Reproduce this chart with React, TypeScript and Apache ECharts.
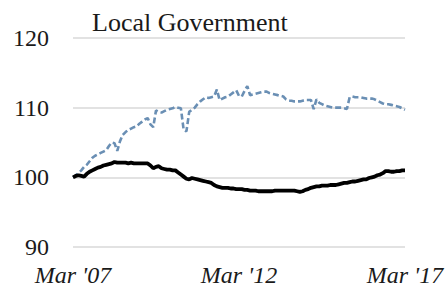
import React, { useEffect, useRef } from "react";
import * as echarts from "echarts";

const START_YEAR = 2007;
const MONTH_COUNT = 121; // Mar 2007 .. Mar 2017
const months: string[] = [];
for (let i = 0; i < MONTH_COUNT; i++) {
  const m = 2 + i; // March = index 2
  const y = START_YEAR + Math.floor(m / 12);
  const mm = (m % 12) + 1;
  months.push(`${y}-${mm < 10 ? "0" + mm : mm}`);
}

const yTicks = [90, 100, 110, 120];

const dashedSeries = [
  100.0, 100.3, 100.6, 101.0, 101.5, 101.8, 102.3, 102.8, 103.1, 103.3,
  103.5, 103.7, 103.9, 104.5, 105.0, 104.9, 103.8, 105.2, 106.1, 106.5,
  106.8, 107.0, 107.2, 107.3, 107.7, 108.0, 108.3, 108.5, 107.6, 107.2,
  109.6, 109.4, 109.3, 109.5, 109.7, 109.8, 109.9, 110.1, 110.0, 109.9,
  106.8, 106.6, 109.4, 109.7, 110.0, 110.5, 110.9, 111.2, 111.5, 111.4,
  111.5, 111.6, 112.6, 111.1, 111.3, 111.5, 111.6, 111.9, 112.2, 112.5,
  111.7, 111.6, 112.4, 113.1, 111.8, 111.9, 112.0, 112.1, 112.2, 112.3,
  112.3, 112.1, 112.0, 111.9, 111.8, 111.7, 111.6, 111.2, 111.0, 111.0,
  110.9, 110.9, 110.9, 111.0, 111.1, 111.1, 111.1, 109.8, 111.2, 110.7,
  110.5, 110.3, 110.2, 110.1, 110.0, 110.0, 110.0, 110.0, 109.9, 109.8,
  111.5, 111.6, 111.5, 111.5, 111.5, 111.4, 111.3, 111.3, 111.3, 111.2,
  111.0, 110.8, 110.6, 110.5, 110.5, 110.4, 110.3, 110.2, 110.1, 109.9,
  109.7,
];

const solidSeries = [
  100.0, 100.2, 100.3, 100.2, 100.1, 100.5, 100.8, 101.0, 101.2, 101.4,
  101.5, 101.7, 101.8, 101.9, 102.0, 102.2, 102.1, 102.1, 102.1, 102.1,
  102.0, 102.1, 102.0, 102.0, 102.0, 102.0, 102.0, 102.0, 101.7, 101.3,
  101.5, 101.6, 101.3, 101.2, 101.1, 101.1, 101.0, 101.0, 100.7, 100.4,
  100.1, 99.8, 99.7, 99.9, 99.8, 99.7, 99.6, 99.5, 99.4, 99.3,
  99.2, 98.9, 98.7, 98.6, 98.5, 98.5, 98.5, 98.4, 98.4, 98.3,
  98.3, 98.3, 98.2, 98.2, 98.1, 98.1, 98.1, 98.0, 98.0, 98.0,
  98.0, 98.0, 98.0, 98.1, 98.1, 98.1, 98.1, 98.1, 98.1, 98.1,
  98.1, 98.0, 97.9, 98.0, 98.2, 98.3, 98.5, 98.6, 98.7, 98.7,
  98.8, 98.8, 98.8, 98.9, 98.9, 98.9, 99.0, 99.1, 99.2, 99.2,
  99.3, 99.4, 99.4, 99.5, 99.6, 99.7, 99.7, 99.9, 100.0, 100.1,
  100.3, 100.4, 100.6, 100.9, 100.9, 100.8, 100.8, 100.9, 100.9, 101.0,
  101.0,
];

const MONTH_NAMES = ["Jan", "Feb", "Mar", "Apr", "May", "Jun", "Jul", "Aug", "Sep", "Oct", "Nov", "Dec"];
const FONT = "Times New Roman, Liberation Serif, DejaVu Serif, serif";

export default function App() {
  const ref = useRef<HTMLDivElement>(null);
  useEffect(() => {
    if (!ref.current) return;
    const chart = echarts.init(ref.current, undefined, { renderer: "svg" });
    chart.setOption({
      animation: false,
      backgroundColor: "#ffffff",
      textStyle: { fontFamily: FONT },
      title: {
        text: "Local Government",
        left: 92,
        top: 9,
        padding: 0,
        textStyle: { fontFamily: FONT, fontSize: 26, fontWeight: "normal", color: "#1a1a1a" },
      },
      grid: { left: 73, right: 42, top: 38, bottom: 41 },
      xAxis: {
        type: "category",
        data: months,
        boundaryGap: false,
        axisLine: { show: false },
        axisTick: { show: false },
        splitLine: { show: false },
        axisLabel: {
          interval: 59,
          margin: 16,
          fontFamily: FONT,
          fontSize: 24,
          fontStyle: "italic",
          color: "#1a1a1a",
          formatter: (v: string) => {
            const [y, m] = v.split("-");
            return `${MONTH_NAMES[parseInt(m, 10) - 1]} '${y.slice(2)}`;
          },
        },
      },
      yAxis: {
        type: "value",
        min: yTicks[0],
        max: yTicks[yTicks.length - 1],
        interval: 10,
        axisLine: { show: false },
        axisTick: { show: false },
        splitLine: { lineStyle: { color: "#d9d9d9", width: 1.5 } },
        axisLabel: { margin: 24, fontFamily: FONT, fontSize: 24, color: "#1a1a1a" },
      },
      series: [
        {
          type: "line",
          data: dashedSeries,
          showSymbol: false,
          lineStyle: { color: "#6a8fb4", width: 2.6, type: [6, 3] },
        },
        {
          type: "line",
          data: solidSeries,
          showSymbol: false,
          lineStyle: { color: "#000000", width: 3.8 },
        },
      ],
    });
    return () => chart.dispose();
  }, []);
  return <div ref={ref} style={{ width: 447, height: 288, position: "absolute", left: 0, top: 0 }} />;
}
